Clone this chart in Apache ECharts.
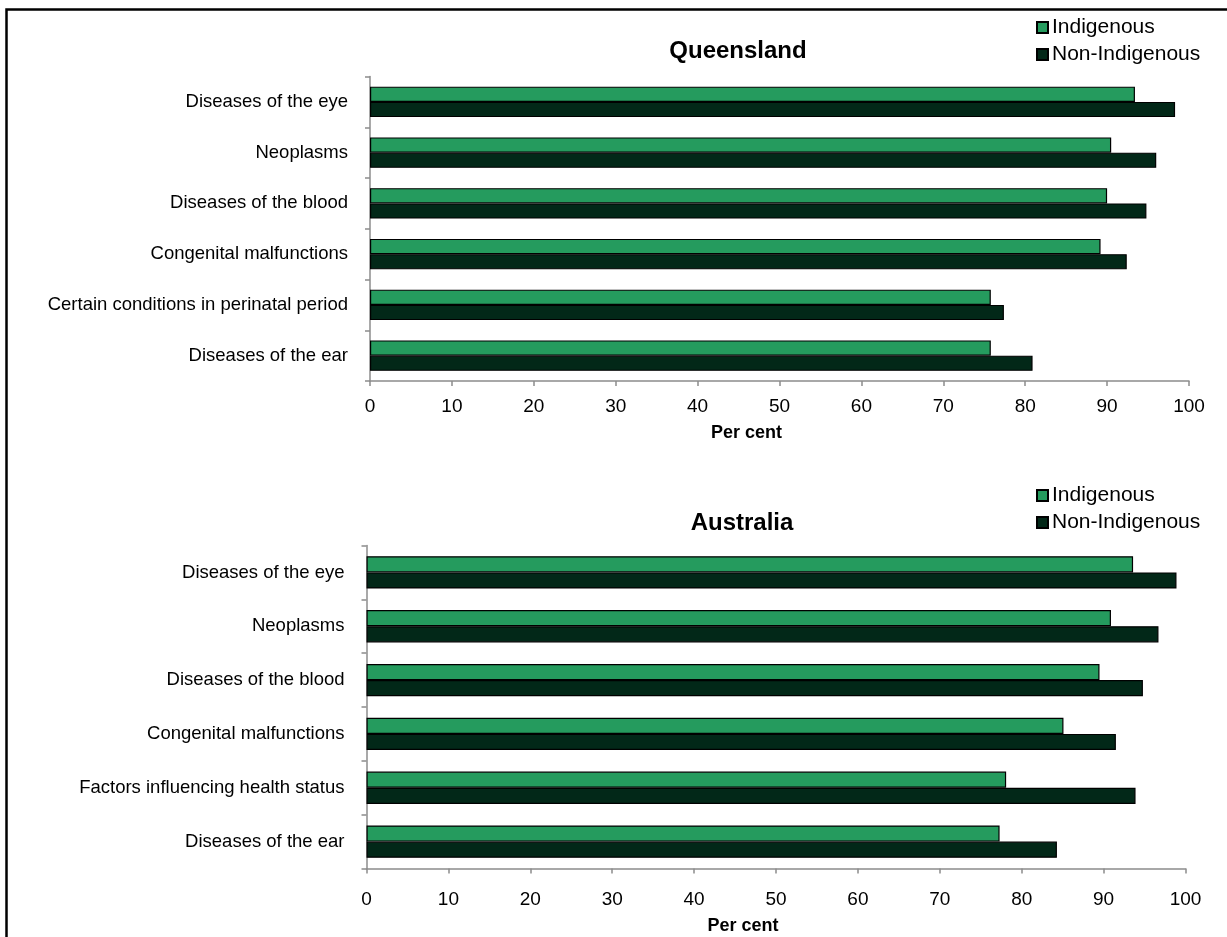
<!DOCTYPE html>
<html>
<head>
<meta charset="utf-8">
<script src="https://cdn.jsdelivr.net/npm/echarts@6/dist/echarts.min.js"></script>
<style>
html,body{margin:0;padding:0;background:#fff;}
#chart{width:1227px;height:937px;}
</style>
</head>
<body>
<div id="chart"></div>
<script>
// ---- Data ----
const qldCategories = ['Diseases of the eye','Neoplasms','Diseases of the blood','Congenital malfunctions','Certain conditions in perinatal period','Diseases of the ear'];
const qldIndigenous = [93.4, 90.5, 90.0, 89.2, 75.8, 75.8];
const qldNonIndigenous = [98.3, 96.0, 94.8, 92.4, 77.4, 80.9];

const ausCategories = ['Diseases of the eye','Neoplasms','Diseases of the blood','Congenital malfunctions','Factors influencing health status','Diseases of the ear'];
const ausIndigenous = [93.6, 90.9, 89.5, 85.1, 78.1, 77.3];
const ausNonIndigenous = [98.9, 96.7, 94.8, 91.5, 93.9, 84.3];

const seriesNames = ['Indigenous', 'Non-Indigenous'];
const xTicks = {min: 0, max: 100, interval: 10};
const axisName = 'Per cent';
const titles = ['Queensland', 'Australia'];

// ---- Styles ----
const FONT = "'Liberation Sans', Arial, sans-serif";
const colors = ['#259B5E', '#022818'];
const axisGrey = '#8c8c8c';

const chart = echarts.init(document.getElementById('chart'), null, {renderer: 'canvas'});

function xAxisCfg(gridIndex, labelMargin, nameGap) {
  return {
    type: 'value', gridIndex: gridIndex,
    min: xTicks.min, max: xTicks.max, interval: xTicks.interval,
    splitLine: {show: false},
    axisLine: {show: true, lineStyle: {color: axisGrey, width: 1.5}},
    axisTick: {show: true, length: 5, lineStyle: {color: axisGrey, width: 1.5}},
    axisLabel: {fontFamily: FONT, fontSize: 19, color: '#000', margin: labelMargin},
    name: axisName, nameLocation: 'middle', nameGap: nameGap,
    nameTextStyle: {fontFamily: FONT, fontSize: 18, fontWeight: 'bold', color: '#000', padding: [0, 66, 0, 0]}
  };
}
function yAxisCfg(gridIndex, cats) {
  return {
    type: 'category', gridIndex: gridIndex, inverse: true, data: cats,
    axisLine: {show: true, lineStyle: {color: axisGrey, width: 1.5}},
    axisTick: {show: true, length: 5, lineStyle: {color: axisGrey, width: 1.5}},
    axisLabel: {fontFamily: FONT, fontSize: 18.5, color: '#000', margin: 22}
  };
}
function barSeries(name, idx, data, colorIdx) {
  return {
    type: 'bar', name: name, xAxisIndex: idx, yAxisIndex: idx, data: data,
    barGap: '0%', barCategoryGap: '40%',
    itemStyle: {color: colors[colorIdx], borderColor: '#000', borderWidth: 1.2},
    emphasis: {disabled: true}
  };
}
function legendCfg(top) {
  return {
    data: seriesNames, orient: 'vertical', left: 1036, top: top,
    icon: 'rect', itemWidth: 11, itemHeight: 11, itemGap: 6, padding: 0,
    textStyle: {fontFamily: FONT, fontSize: 21, color: '#000', lineHeight: 21, padding: [0,0,0,-1]},
    selectedMode: false
  };
}

const option = {
  animation: false,
  backgroundColor: '#fff',
  title: [
    {text: titles[0], left: 733, top: 34, textAlign: 'center',
     textStyle: {fontFamily: FONT, fontSize: 24, fontWeight: 'bold', color: '#000'}},
    {text: titles[1], left: 737, top: 506, textAlign: 'center',
     textStyle: {fontFamily: FONT, fontSize: 24, fontWeight: 'bold', color: '#000'}}
  ],
  legend: [legendCfg(17), legendCfg(485)],
  grid: [
    {left: 370, width: 819, top: 76.5, height: 304.5, containLabel: false},
    {left: 366.5, width: 819, top: 545.5, height: 323, containLabel: false}
  ],
  xAxis: [xAxisCfg(0, 16, 43), xAxisCfg(1, 22, 49)],
  yAxis: [yAxisCfg(0, qldCategories), yAxisCfg(1, ausCategories)],
  series: [
    barSeries(seriesNames[0], 0, qldIndigenous, 0),
    barSeries(seriesNames[1], 0, qldNonIndigenous, 1),
    barSeries(seriesNames[0], 1, ausIndigenous, 0),
    barSeries(seriesNames[1], 1, ausNonIndigenous, 1)
  ],
  graphic: [
    {type: 'rect', left: 4, top: 7, z: 100, silent: true,
     shape: {x: 0, y: 0, width: 1240, height: 950},
     style: {fill: 'none', stroke: '#000', lineWidth: 2.5}}
  ]
};
chart.setOption(option);
</script>
</body>
</html>
